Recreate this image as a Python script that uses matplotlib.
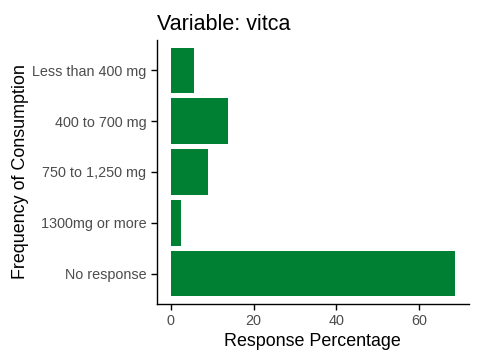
import matplotlib.pyplot as plt

plt.rcParams['font.family'] = ['Liberation Sans', 'DejaVu Sans']

# 类别与数值
categories = ['Less than 400 mg', '400 to 700 mg', '750 to 1,250 mg', '1300mg or more', 'No response']
values = [5.5, 13.7, 8.9, 2.4, 68.7]
x_ticks = [0, 20, 40, 60]

fig = plt.figure(figsize=(4.8, 3.6), dpi=100)
ax = fig.add_axes([0.3265, 0.1556, 0.6505, 0.7334])

pos = list(range(len(categories)))
ax.barh(pos, values, height=0.9, color='#008033')

ax.set_yticks(pos)
ax.set_yticklabels(categories)
ax.set_ylim(len(categories) - 0.4, -0.6)
ax.set_xlim(-0.05 * max(values), max(values) * 1.05)
ax.set_xticks(x_ticks)

for s in ['top', 'right']:
    ax.spines[s].set_visible(False)
for s in ['left', 'bottom']:
    ax.spines[s].set_linewidth(1.0)
ax.tick_params(axis='both', colors='black', labelcolor='#4D4D4D', labelsize=10.4, length=4, width=1)

ax.set_xlabel('Response Percentage', fontsize=12.9, color='black', labelpad=3)
ax.set_ylabel('Frequency of Consumption', fontsize=12.9, color='black', labelpad=2)
ax.set_title('Variable: vitca', fontsize=15.5, loc='left', pad=7)

fig.savefig('out.png', dpi=100)
